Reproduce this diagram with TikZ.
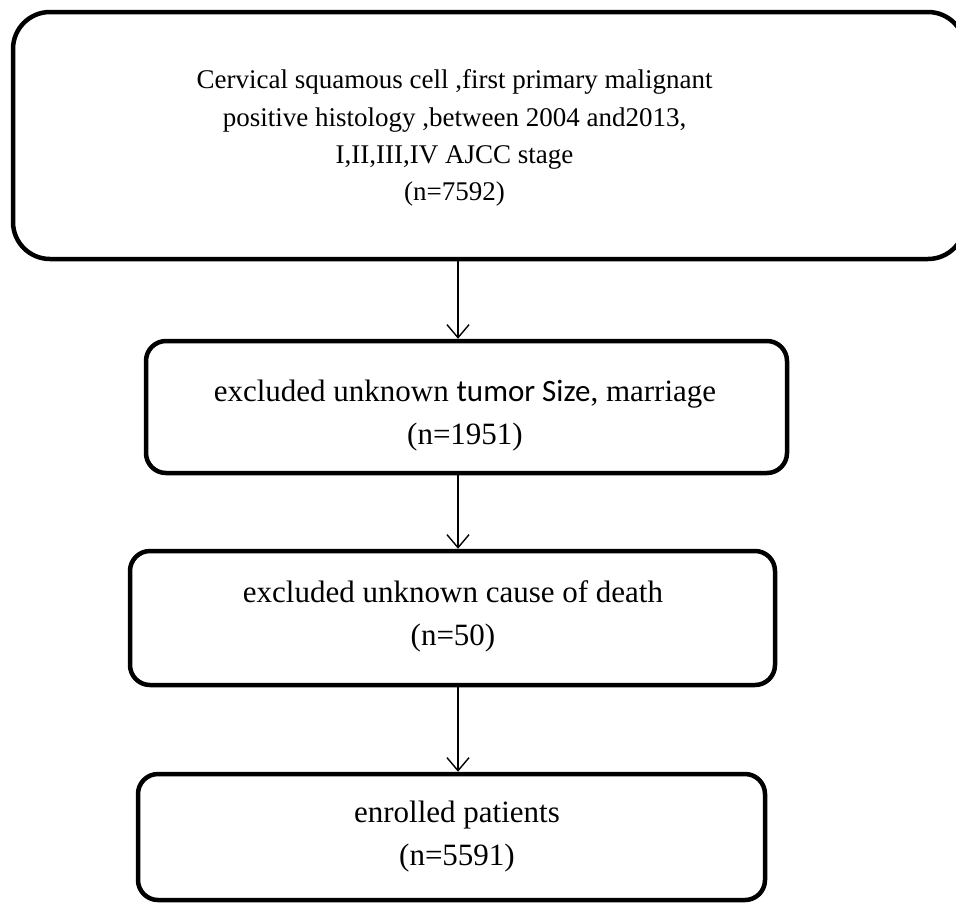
\documentclass[tikz,border=0pt]{standalone}
\usepackage{fontspec}
\setmainfont{Liberation Serif}
\newfontfamily\calib{Carlito}
\usetikzlibrary{arrows.meta}
\begin{document}
\begin{tikzpicture}[x=1pt,y=-1pt,
  box/.style={draw=black,line width=4.5pt,rounded corners=#1,inner sep=0pt},
  lbl/.style={align=center,font=\fontsize{31}{43}\selectfont,inner sep=0pt},
  lblbig/.style={align=center,font=\fontsize{27}{37.2}\selectfont,inner sep=0pt},
  arr/.style={line width=1.4pt,-{Straight Barb[length=13pt,width=22pt,line width=1.4pt]}}]
\useasboundingbox (0,0) rectangle (956,903);
\node[box=37pt,minimum width=952pt,minimum height=247pt] (b1) at (489,135.5) {};
\node[box=20pt,minimum width=641pt,minimum height=132pt] (b2) at (466.5,407) {};
\node[box=20pt,minimum width=645pt,minimum height=134pt] (b3) at (452.5,618) {};
\node[box=20pt,minimum width=627pt,minimum height=126pt] (b4) at (451.5,837) {};
\node[lblbig] (t1) at (454.5,138) {Cervical squamous cell ,first primary malignant\\positive histology ,between 2004 and2013,\\I,II,III,IV AJCC stage\\(n=7592)};
\node[lbl] (t2) at (465,416) {excluded unknown {\calib tumor Size}, marriage\\(n=1951)};
\node[lbl] (t3) at (453,616) {excluded unknown cause of death\\(n=50)};
\node[lbl] (t4) at (457,837) {enrolled patients\\(n=5591)};
\coordinate (ax) at (458,0);
\draw[arr] (b1.south -| ax) -- (b2.north -| ax);
\draw[arr] (b2.south -| ax) -- (b3.north -| ax);
\draw[arr] (b3.south -| ax) -- (b4.north -| ax);
\end{tikzpicture}
\end{document}
